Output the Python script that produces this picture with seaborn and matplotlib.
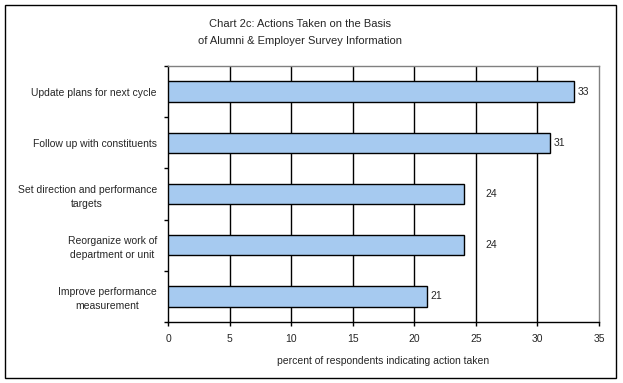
import matplotlib
matplotlib.use("Agg")
import matplotlib.pyplot as plt
import seaborn as sns
import pandas as pd
from matplotlib.patches import Rectangle

# data
actions = [
    "Update plans for next cycle",
    "Follow up with constituents",
    "Set direction and performance\ntargets",
    "Reorganize work of\ndepartment or unit",
    "Improve performance\nmeasurement",
]
percents = [33, 31, 24, 24, 21]
x_ticks = [0, 5, 10, 15, 20, 25, 30, 35]

df = pd.DataFrame({"action": actions, "percent": percents})

sns.set_style("white")
plt.rcParams["font.family"] = ["Liberation Sans", "DejaVu Sans"]

fig = plt.figure(figsize=(6.23, 3.83), dpi=100)
ax = fig.add_axes([168 / 623, 1 - 322 / 383, (599 - 168) / 623, (322 - 66) / 383])

sns.barplot(data=df, x="percent", y="action", orient="h", color="#A6CAF0",
            edgecolor="black", linewidth=1, width=0.4, saturation=1, ax=ax, zorder=3)

ax.set_xlim(0, 35)
ax.set_ylim(len(actions) - 0.5, -0.5)

# vertical gridlines
for t in x_ticks[1:-1]:
    ax.axvline(t, color="black", lw=1, zorder=1)

ax.set_xticks(x_ticks)
ax.set_xticklabels([str(t) for t in x_ticks], fontsize=7.5)
ax.tick_params(axis="x", direction="out", length=3, width=1, color="black",
               bottom=True, pad=6)

# category ticks at boundaries, labels at centres
n = len(actions)
ax.set_yticks([i - 0.5 for i in range(n + 1)])
ax.set_yticklabels([])
ax.set_yticks(range(n), minor=True)
ax.set_yticklabels(actions, minor=True, fontsize=7.5, multialignment="center",
                   linespacing=1.45)
ax.tick_params(axis="y", which="major", direction="out", length=3, width=1,
               color="black", left=True)
ax.tick_params(axis="y", which="minor", length=0, pad=8)

ax.set_xlabel("percent of respondents indicating action taken", fontsize=7.5, labelpad=8)
ax.set_ylabel("")

for side in ["left", "bottom"]:
    ax.spines[side].set_color("black")
    ax.spines[side].set_linewidth(1)
for side in ["top", "right"]:
    ax.spines[side].set_color("#808080")
    ax.spines[side].set_linewidth(1)

# value labels, nudged past a gridline if it would sit on one
for i, v in enumerate(percents):
    nxt = (v // 5 + 1) * 5
    xpos = v + 0.3
    if nxt - v <= 1 and nxt < 35:
        xpos = nxt + 0.8
    ax.text(xpos, i, str(v), va="center", ha="left", fontsize=7.5)

fig.text(300 / 623, 1 - 24 / 383, "Chart 2c: Actions Taken on the Basis",
         ha="center", va="center", fontsize=8)
fig.text(300 / 623, 1 - 41 / 383, "of Alumni & Employer Survey Information",
         ha="center", va="center", fontsize=8)

# outer chart border
fig.patches.append(Rectangle((5 / 623, 1 - 378 / 383), 611 / 623, 373 / 383,
                             transform=fig.transFigure, fill=False,
                             edgecolor="black", lw=1))

fig.savefig("out.png", dpi=100)
